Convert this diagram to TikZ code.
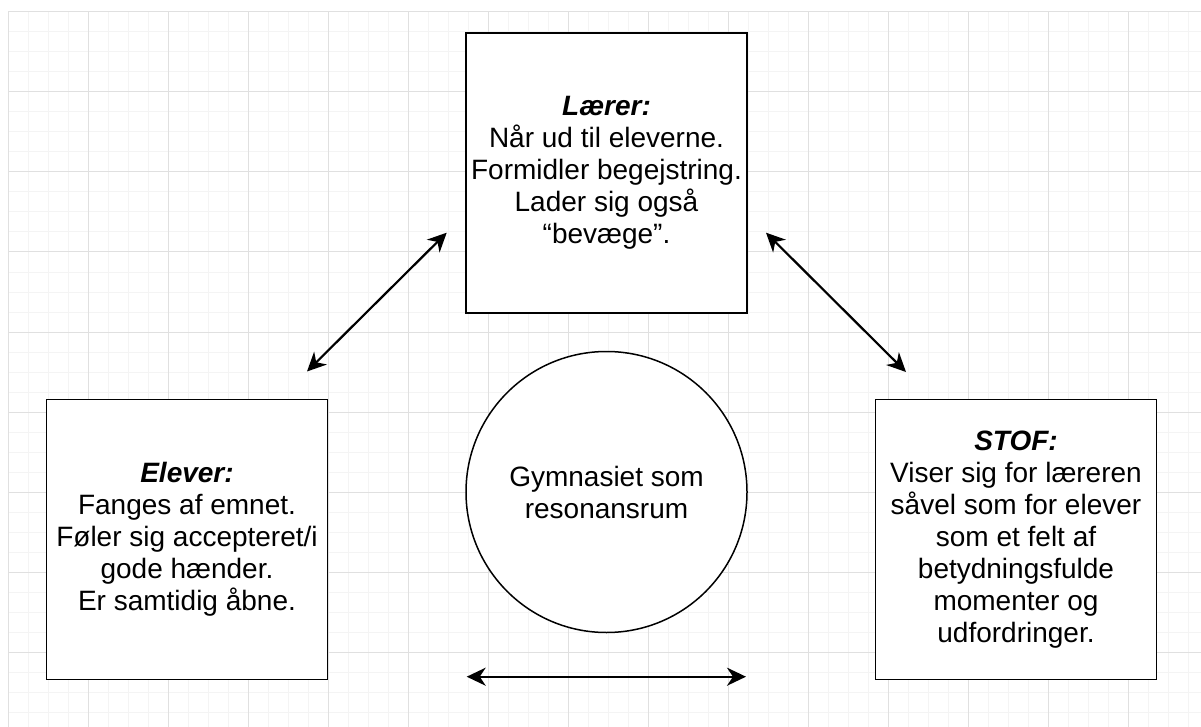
\documentclass[tikz,border=0pt]{standalone}
\usepackage{fontspec}
\setmainfont{Liberation Sans}
\usetikzlibrary{arrows.meta}
\definecolor{minorgrid}{RGB}{244,244,244}
\definecolor{majorgrid}{RGB}{224,224,224}
\begin{document}
\begin{tikzpicture}[x=1pt,y=-1pt,
  boxnode/.style={draw,line width=1.8pt,fill=white,minimum width=281pt,minimum height=280pt,
    align=center,inner sep=0pt,font={\fontsize{28}{32}\selectfont}},
  roomnode/.style={draw,circle,line width=1.5pt,fill=white,minimum size=281pt,
    align=center,inner sep=0pt,font={\fontsize{28}{32}\selectfont}},
  twoway/.style={line width=2.2pt,{Stealth[length=19pt,width=18pt,inset=6pt]}-{Stealth[length=19pt,width=18pt,inset=6pt]}}]
\useasboundingbox (0,0) rectangle (1201,727);
\fill[white] (0,0) rectangle (1201,727);

% background grid
\foreach \gx in {8,28,...,1200} \draw[minorgrid,line width=1pt] (\gx,12) -- (\gx,727);
\foreach \gy in {12,32,...,727} \draw[minorgrid,line width=1pt] (8,\gy) -- (1201,\gy);
\foreach \gx in {8,88,...,1200} \draw[majorgrid,line width=1pt] (\gx,12) -- (\gx,727);
\foreach \gy in {12,92,...,727} \draw[majorgrid,line width=1pt] (8,\gy) -- (1201,\gy);

% boxes
\node[boxnode] (laerer) at (606.5,173) {\textbf{\textit{Lærer:}}\\Når ud til eleverne.\\Formidler begejstring.\\Lader sig også\\“bevæge”.};
\node[boxnode] (elever) at (187,539.5) {\textbf{\textit{Elever:}}\\Fanges af emnet.\\Føler sig accepteret/i\\gode hænder.\\Er samtidig åbne.};
\node[boxnode] (stof) at (1016,539.5) {\textbf{\textit{STOF:}}\\Viser sig for læreren\\såvel som for elever\\som et felt af\\betydningsfulde\\momenter og\\udfordringer.};
\node[roomnode] (rum) at (606.5,492) {Gymnasiet som\\resonansrum};

% free arrows
\coordinate (venstreA) at (307,371.5);
\coordinate (venstreB) at (446.7,232.7);
\coordinate (hoejreA) at (766,232.7);
\coordinate (hoejreB) at (906,372);
\coordinate (bundA) at (466.7,676.7);
\coordinate (bundB) at (746,676.7);
\draw[twoway] (venstreA) -- (venstreB);
\draw[twoway] (hoejreA) -- (hoejreB);
\draw[twoway] (bundA) -- (bundB);

\end{tikzpicture}
\end{document}
